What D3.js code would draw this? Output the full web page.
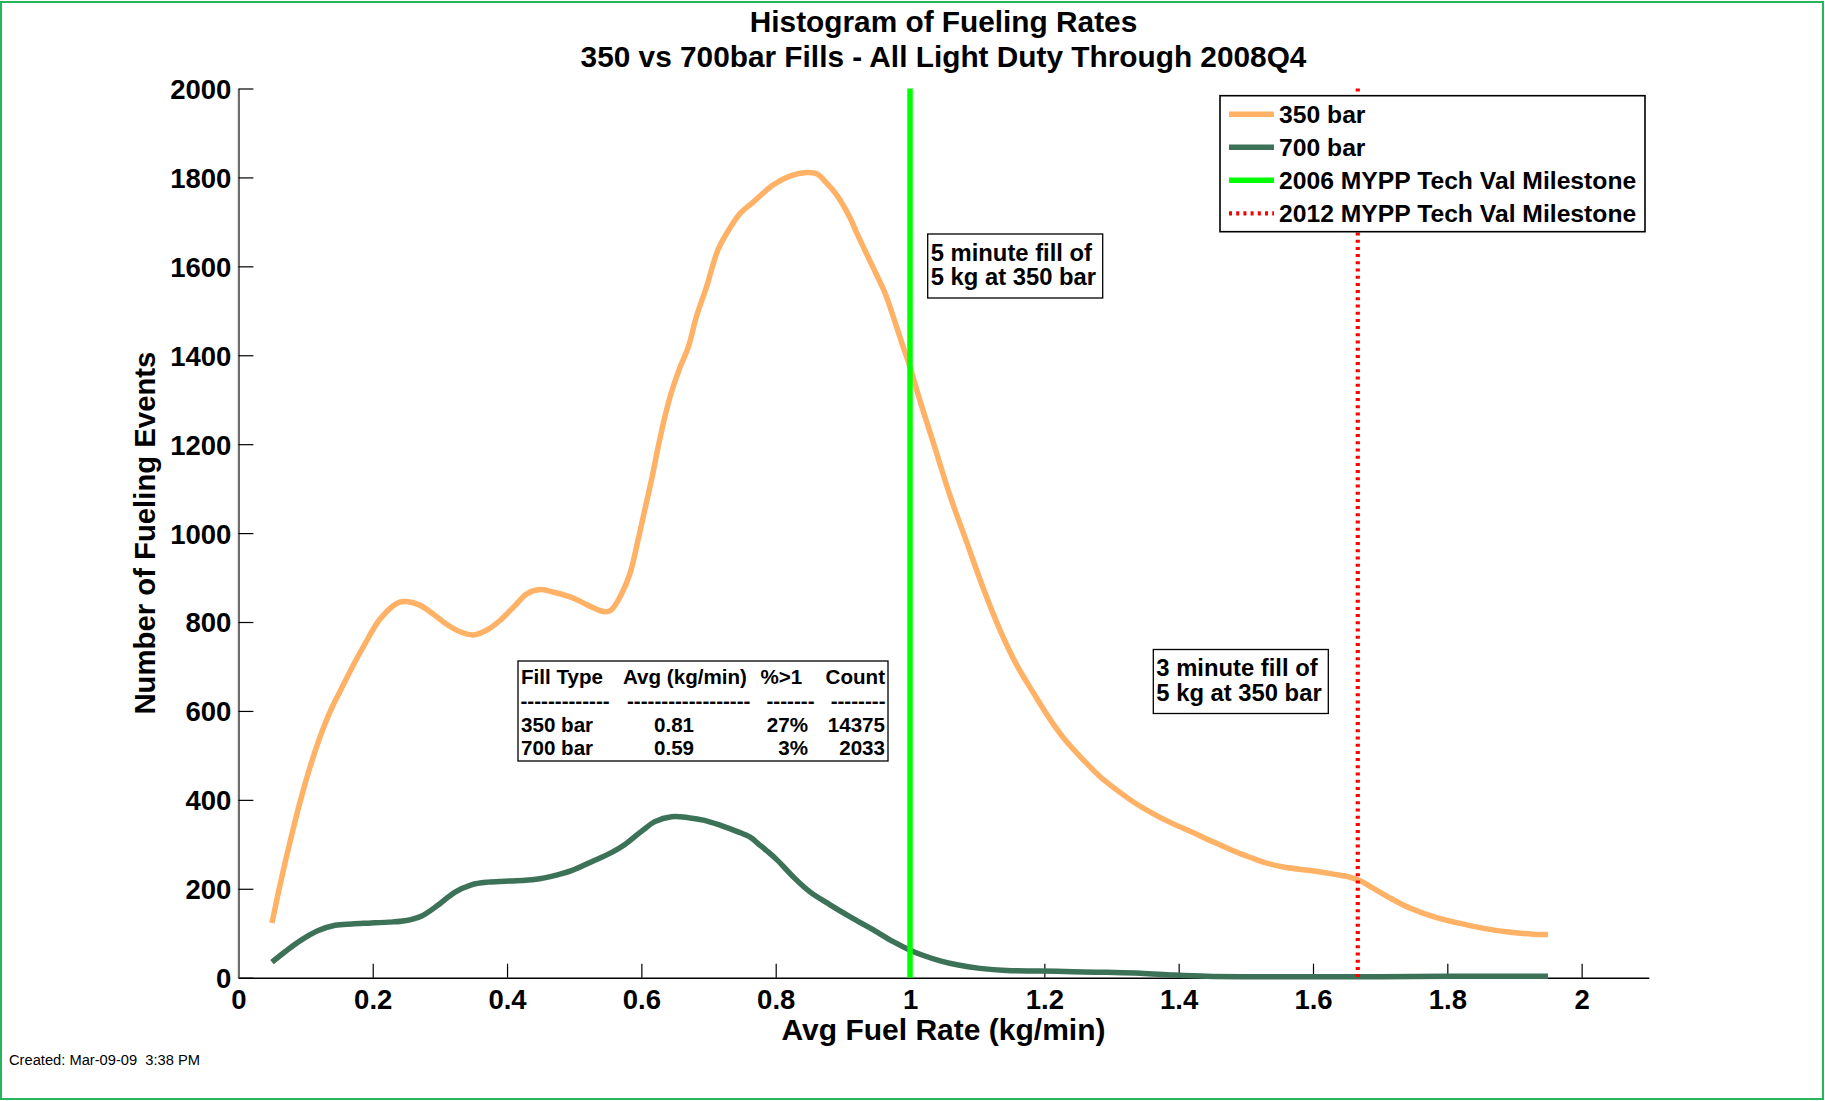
<!DOCTYPE html>
<html>
<head>
<meta charset="utf-8">
<script src="https://cdn.jsdelivr.net/npm/d3@7"></script>
<style>
  html, body { margin: 0; padding: 0; background: #fff; }
  svg { display: block; }
  text { font-family: "Liberation Sans", Arial, Helvetica, sans-serif; }
</style>
</head>
<body>
<svg id="chart" width="1825" height="1101"></svg>
<script>
// Fueling-rate histogram (smoothed counts) for 350 and 700 bar fills
const rate350 = [0.05,0.06,0.07,0.08,0.09,0.10,0.11,0.12,0.13,0.14,0.15,0.16,0.17,0.18,0.19,0.20,0.21,0.22,0.23,0.24,0.25,0.27,0.29,0.31,0.33,0.35,0.37,0.39,0.41,0.43,0.45,0.47,0.50,0.52,0.545,0.555,0.57,0.583,0.595,0.605,0.615,0.625,0.635,0.645,0.657,0.67,0.682,0.697,0.714,0.727,0.747,0.767,0.796,0.821,0.846,0.861,0.876,0.891,0.911,0.921,0.941,0.963,0.975,0.988,1.0,1.013,1.035,1.06,1.085,1.11,1.134,1.159,1.184,1.209,1.233,1.258,1.283,1.308,1.338,1.363,1.392,1.422,1.452,1.482,1.506,1.526,1.556,1.596,1.63,1.655,1.67,1.69,1.715,1.745,1.784,1.814,1.854,1.894,1.928,1.95];
const count350 = [123,195,262,325,385,440,490,535,575,610,640,670,700,728,755,782,805,822,836,845,846,838,818,795,778,771,782,804,834,864,873,867,853,838,823,827,862,909,984,1052,1119,1194,1262,1318,1371,1419,1487,1554,1637,1674,1719,1745,1783,1803,1811,1808,1787,1760,1708,1674,1610,1539,1487,1427,1374,1307,1202,1082,977,872,782,703,640,580,531,490,452,422,390,368,346,326,305,285,271,260,249,241,233,226,218,201,179,156,135,124,111,102,98,97];

const rate700 = [0.05,0.07,0.094,0.119,0.144,0.169,0.198,0.223,0.248,0.273,0.298,0.322,0.347,0.372,0.397,0.427,0.446,0.466,0.496,0.526,0.556,0.575,0.60,0.62,0.645,0.67,0.694,0.719,0.744,0.762,0.775,0.787,0.802,0.826,0.851,0.881,0.911,0.946,0.975,1.0,1.02,1.045,1.07,1.104,1.144,1.194,1.243,1.293,1.343,1.392,1.442,1.5,1.6,1.7,1.8,1.9,1.95];
const count700 = [35,59,85,106,118,121,123,125,128,139,164,192,209,215,217,219,222,228,241,261,282,299,329,351,362,360,354,342,328,316,300,285,265,227,193,164,137,107,81,62,50,38,29,21,16,15,13.5,12,10,6,3,2,2,2,3,3,3];

// Milestone fill rates (kg/min): 5 kg in 5 minutes, 5 kg in 3 minutes
const milestones = [1.0, 5 / 3];

const xTicks = [0,0.2,0.4,0.6,0.8,1,1.2,1.4,1.6,1.8,2];
const yTicks = [0,200,400,600,800,1000,1200,1400,1600,1800,2000];

const legendLabels = ["350 bar", "700 bar", "2006 MYPP Tech Val Milestone", "2012 MYPP Tech Val Milestone"];

const tableHeader = ["Fill Type", "Avg (kg/min)", "%>1", "Count"];
const tableDashes = ["-------------", "------------------", "-------", "--------"];
const tableRows = [
  ["350 bar", "0.81", "27%", "14375"],
  ["700 bar", "0.59", "3%", "2033"]
];

const titleLines = ["Histogram of Fueling Rates", "350 vs 700bar Fills - All Light Duty Through 2008Q4"];
const notes = [
  { x: 927.7, y: 234, lines: ["5 minute fill of", "5 kg at 350 bar"] },
  { x: 1153.3, y: 649.5, lines: ["3 minute fill of", "5 kg at 350 bar"] }
];

const C350 = "#ffb166", C700 = "#3c7257", CGREEN = "#00ff00", CRED = "#ff0000";
const FONT = '"Liberation Sans", Arial, sans-serif';

const svg = d3.select("#chart");

// figure frame
svg.append("rect").attr("x", 1).attr("y", 2).attr("width", 1822).attr("height", 1097)
  .attr("fill", "none").attr("stroke", "#27b45a").attr("stroke-width", 2);

const x = d3.scaleLinear().domain([0, 2.1]).range([238.4, 1648.8]);
const y = d3.scaleLinear().domain([0, 2000]).range([977.7, 88.5]);

// axes
const gx = svg.append("g").attr("transform", `translate(0,${y(0)})`)
  .call(d3.axisBottom(x).tickValues(xTicks).tickSize(-14).tickSizeOuter(0)
    .tickFormat(d => String(+d.toFixed(1))));
gx.select(".domain").attr("stroke", "#000").attr("stroke-width", 1.6);
gx.selectAll(".tick line").attr("stroke", "#000").attr("stroke-width", 1.2);
gx.selectAll(".tick text").attr("y", 31).attr("dy", 0)
  .attr("font-size", 27.5).attr("font-weight", "bold").attr("fill", "#000")
  .attr("font-family", FONT);

const gy = svg.append("g").attr("transform", `translate(${x(0)},0)`)
  .call(d3.axisLeft(y).tickValues(yTicks).tickSize(-15).tickSizeOuter(0)
    .tickFormat(d3.format("d")));
gy.select(".domain").attr("stroke", "#6e6e6e").attr("stroke-width", 2.2);
gy.selectAll(".tick line").attr("stroke", "#000").attr("stroke-width", 1.2);
gy.selectAll(".tick text").attr("x", -7).attr("dy", "0.36em")
  .attr("font-size", 27.5).attr("font-weight", "bold").attr("fill", "#000")
  .attr("font-family", FONT);

// curves
const line = d3.line().x(d => x(d[0])).y(d => y(d[1])).curve(d3.curveCatmullRom.alpha(0.5));
const s350 = rate350.map((r, i) => [r, count350[i]]);
const s700 = rate700.map((r, i) => [r, count700[i]]);

svg.append("path").datum(s350).attr("d", line).attr("fill", "none")
  .attr("stroke", C350).attr("stroke-width", 5.5).attr("stroke-linejoin", "round");
svg.append("path").datum(s700).attr("d", line).attr("fill", "none")
  .attr("stroke", C700).attr("stroke-width", 5.5).attr("stroke-linejoin", "round");

// milestone lines
svg.append("line").attr("x1", x(milestones[0])).attr("x2", x(milestones[0]))
  .attr("y1", y(2000)).attr("y2", y(0)).attr("stroke", CGREEN).attr("stroke-width", 5.5);
svg.append("line").attr("x1", x(milestones[1])).attr("x2", x(milestones[1]))
  .attr("y1", y(2000)).attr("y2", y(0)).attr("stroke", CRED).attr("stroke-width", 4.2)
  .attr("stroke-dasharray", "3 4.2");

// titles
svg.selectAll("text.title").data(titleLines).join("text").attr("class", "title")
  .attr("x", 943.5).attr("y", (d, i) => 31.5 + i * 35)
  .attr("text-anchor", "middle").attr("font-size", 29.8).attr("font-weight", "bold").text(d => d);

svg.append("text").attr("x", 943.5).attr("y", 1040).attr("text-anchor", "middle")
  .attr("font-size", 30).attr("font-weight", "bold").text("Avg Fuel Rate (kg/min)");
svg.append("text").attr("transform", `translate(155,${(y(0) + y(2000)) / 2}) rotate(-90)`)
  .attr("text-anchor", "middle").attr("font-size", 29.3).attr("font-weight", "bold")
  .text("Number of Fueling Events");

// legend
const lg = svg.append("g");
lg.append("rect").attr("x", 1220).attr("y", 95.7).attr("width", 425).attr("height", 136)
  .attr("fill", "#fff").attr("stroke", "#000").attr("stroke-width", 1.6);
const legendStyles = [
  { stroke: C350, w: 5.5, dash: null },
  { stroke: C700, w: 5.5, dash: null },
  { stroke: CGREEN, w: 5.5, dash: null },
  { stroke: CRED, w: 4.2, dash: "3 4.2" }
];
legendLabels.forEach((lab, i) => {
  const cy = 114.3 + i * 33;
  const st = legendStyles[i];
  lg.append("line").attr("x1", 1229).attr("x2", 1274).attr("y1", cy).attr("y2", cy)
    .attr("stroke", st.stroke).attr("stroke-width", st.w)
    .attr("stroke-dasharray", st.dash);
  lg.append("text").attr("x", 1279).attr("y", cy + 8.7).attr("font-size", 24.7)
    .attr("font-weight", "bold").text(lab);
});

// annotation boxes
notes.forEach(n => {
  const g = svg.append("g");
  g.append("rect").attr("x", n.x).attr("y", n.y).attr("width", 175).attr("height", 64)
    .attr("fill", "#fff").attr("stroke", "#000").attr("stroke-width", 1.3);
  n.lines.forEach((t, i) => g.append("text").attr("x", n.x + 3).attr("y", n.y + 26.5 + i * 24.5)
    .attr("font-size", 23.8).attr("font-weight", "bold").text(t));
});

// summary table
const tb = svg.append("g");
tb.append("rect").attr("x", 518).attr("y", 661).attr("width", 370).attr("height", 100)
  .attr("fill", "#fff").attr("stroke", "#000").attr("stroke-width", 1.3);
const TFS = 20.6;
const colX = [521, 623, 760.5, 885];
const colAnchor = ["start", "start", "start", "end"];
tableHeader.forEach((t, j) => tb.append("text").attr("x", colX[j]).attr("y", 683.5)
  .attr("text-anchor", colAnchor[j]).attr("font-size", TFS).attr("font-weight", "bold").text(t));
const dashX = [520.5, 627, 766.5, 885.5];
tableDashes.forEach((t, j) => tb.append("text").attr("x", dashX[j]).attr("y", 708)
  .attr("text-anchor", j === 3 ? "end" : "start").attr("font-size", TFS).attr("font-weight", "bold").text(t));
const valX = [521, 674, 808, 885];
const valAnchor = ["start", "middle", "end", "end"];
tableRows.forEach((row, i) => row.forEach((t, j) => tb.append("text")
  .attr("x", valX[j]).attr("y", 731.5 + i * 23)
  .attr("text-anchor", valAnchor[j]).attr("font-size", TFS).attr("font-weight", "bold").text(t)));

// creation stamp
svg.append("text").attr("x", 9).attr("y", 1065).attr("font-size", 14.7)
  .style("white-space", "pre").text("Created: Mar-09-09  3:38 PM");
</script>
</body>
</html>
